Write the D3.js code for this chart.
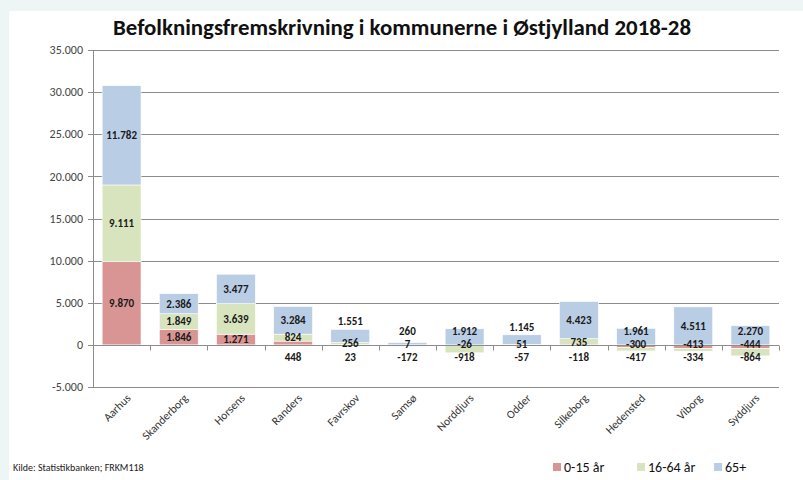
<!DOCTYPE html>
<html>
<head>
<meta charset="utf-8">
<script src="https://cdn.jsdelivr.net/npm/d3@7"></script>
<style>
  html, body { margin: 0; padding: 0; background: #eef5f5; }
  svg { display: block; }
  text { font-family: Carlito, "Liberation Sans Narrow", "Open Sans", sans-serif; }
</style>
</head>
<body>
<div id="chart"></div>
<script>
const categories = ['Aarhus', 'Skanderborg', 'Horsens', 'Randers', 'Favrskov', 'Samsø',
    'Norddjurs', 'Odder', 'Silkeborg', 'Hedensted', 'Viborg', 'Syddjurs'];
const age0to15 = [9870, 1846, 1271, 448, 23, 7, -26, 51, -118, -300, -413, -444];
const age16to64 = [9111, 1849, 3639, 824, 256, -172, -918, -57, 735, -417, -334, -864];
const age65plus = [11782, 2386, 3477, 3284, 1551, 260, 1912, 1145, 4423, 1961, 4511, 2270];
const seriesNames = ['0-15 år', '16-64 år', '65+'];
const seriesColors = ['#d99594', '#d7e4bd', '#b9cde5'];
const yTicks = [-5000, 0, 5000, 10000, 15000, 20000, 25000, 30000, 35000];

const width = 803, height = 480;
const margin = { left: 93, right: 24, top: 50, bottom: 93 };

const locale = d3.formatLocale({ decimal: ',', thousands: '.', grouping: [3], currency: ['', ''], minus: '-' });
const fmt = locale.format(',d');

const svg = d3.select('#chart').append('svg')
    .attr('width', width)
    .attr('height', height);

// white panel
svg.append('rect')
    .attr('x', 9).attr('y', 11)
    .attr('width', width - 9).attr('height', height - 11)
    .attr('fill', '#fff');

svg.append('text')
    .attr('x', 402).attr('y', 35)
    .attr('text-anchor', 'middle')
    .attr('font-size', 22).attr('font-weight', 'bold')
    .attr('fill', '#111')
    .attr('textLength', 578)
    .attr('lengthAdjust', 'spacingAndGlyphs')
    .text('Befolkningsfremskrivning i kommunerne i Østjylland 2018-28');

const x = d3.scaleBand()
    .domain(categories)
    .range([margin.left, width - margin.right])
    .paddingInner(0.32)
    .paddingOuter(0.16);

const y = d3.scaleLinear()
    .domain([-5000, 35000])
    .range([height - margin.bottom, margin.top]);

// gridlines
svg.append('g')
    .selectAll('line')
    .data(yTicks)
    .enter()
    .append('line')
    .attr('x1', margin.left - 5)
    .attr('x2', width - margin.right)
    .attr('y1', d => Math.round(y(d)) + 0.5)
    .attr('y2', d => Math.round(y(d)) + 0.5)
    .attr('stroke', '#8c8c8c')
    .attr('stroke-width', 1);

svg.append('g')
    .selectAll('text')
    .data(yTicks)
    .enter()
    .append('text')
    .attr('x', margin.left - 10)
    .attr('y', d => y(d))
    .attr('dy', '0.35em')
    .attr('text-anchor', 'end')
    .attr('font-size', 12)
    .attr('fill', '#444')
    .text(d => fmt(d));

svg.append('line')
    .attr('x1', margin.left + 0.5).attr('x2', margin.left + 0.5)
    .attr('y1', y(35000)).attr('y2', y(-5000))
    .attr('stroke', '#8c8c8c');

// stacked bars
const rows = categories.map((c, i) => ({
    cat: c,
    '0-15 år': age0to15[i],
    '16-64 år': age16to64[i],
    '65+': age65plus[i]
}));

const stack = d3.stack()
    .keys(seriesNames)
    .offset(d3.stackOffsetDiverging);
const layers = stack(rows);

svg.append('g')
    .selectAll('g')
    .data(layers)
    .enter()
    .append('g')
    .attr('fill', (d, i) => seriesColors[i])
    .selectAll('rect')
    .data(d => d)
    .enter()
    .append('rect')
    .attr('x', d => x(d.data.cat))
    .attr('width', x.bandwidth())
    .attr('y', d => y(Math.max(d[0], d[1])))
    .attr('height', d => Math.abs(y(d[0]) - y(d[1])))
    .attr('stroke', '#fff')
    .attr('stroke-width', 0.6);

// category axis at zero
const zeroY = Math.round(y(0)) + 0.5;
svg.append('line')
    .attr('x1', margin.left).attr('x2', width - margin.right)
    .attr('y1', zeroY).attr('y2', zeroY)
    .attr('stroke', '#8c8c8c');
svg.append('g')
    .selectAll('line')
    .data(d3.range(categories.length + 1))
    .enter()
    .append('line')
    .attr('x1', i => Math.round(margin.left + i * x.step()) + 0.5)
    .attr('x2', i => Math.round(margin.left + i * x.step()) + 0.5)
    .attr('y1', zeroY).attr('y2', zeroY + 5)
    .attr('stroke', '#8c8c8c');

// data labels: segment centres, small ones nudged apart
const labels = [];
categories.forEach((c, i) => {
    const segs = layers.map((l, k) => ({
        value: l[i].data[seriesNames[k]],
        top: y(Math.max(l[i][0], l[i][1])),
        bot: y(Math.min(l[i][0], l[i][1]))
    }));
    segs.forEach(s => { s.cy = (s.top + s.bot) / 2; s.h = s.bot - s.top; });
    segs.sort((a, b) => b.cy - a.cy); // bottom first
    const gap = 13;
    segs.forEach((s, k) => {
        if (k === 0) {
            s.ly = s.h < 10 ? Math.max(s.cy, y(0) + 12) : s.cy;
        } else {
            s.ly = Math.min(s.cy, segs[k - 1].ly - gap);
        }
    });
    const topSeg = segs[segs.length - 1];
    if (topSeg.h < 14) topSeg.ly = Math.min(topSeg.ly, topSeg.top - 8);
    segs.forEach(s => labels.push({ cx: x(c) + x.bandwidth() / 2, ly: s.ly, value: s.value }));
});

svg.append('g')
    .selectAll('text')
    .data(labels)
    .enter()
    .append('text')
    .attr('x', d => d.cx)
    .attr('y', d => d.ly)
    .attr('dy', '0.35em')
    .attr('text-anchor', 'middle')
    .attr('font-size', 11)
    .attr('font-weight', 'bold')
    .attr('fill', '#1a1a1a')
    .text(d => fmt(d.value));

// category labels
svg.append('g')
    .selectAll('text')
    .data(categories)
    .enter()
    .append('text')
    .attr('transform', d => `translate(${x(d) + x.bandwidth() / 2 + 7},${y(-5000) + 9}) rotate(-45)`)
    .attr('text-anchor', 'end')
    .attr('dy', '0.35em')
    .attr('font-size', 11.5)
    .attr('fill', '#333')
    .text(d => d);

// source
svg.append('text')
    .attr('x', 13).attr('y', 471)
    .attr('font-size', 10)
    .attr('fill', '#222')
    .text('Kilde: Statistikbanken; FRKM118');

// legend
const legendX = [553, 637, 714];
const legend = svg.append('g')
    .selectAll('g')
    .data(seriesNames)
    .enter()
    .append('g')
    .attr('transform', (d, i) => `translate(${legendX[i]},467)`);
legend.append('rect')
    .attr('x', 0).attr('y', -4)
    .attr('width', 8).attr('height', 8)
    .attr('fill', (d, i) => seriesColors[i]);
legend.append('text')
    .attr('x', 11)
    .attr('dy', '0.35em')
    .attr('font-size', 14)
    .attr('fill', '#111')
    .text(d => d);
</script>
</body>
</html>
